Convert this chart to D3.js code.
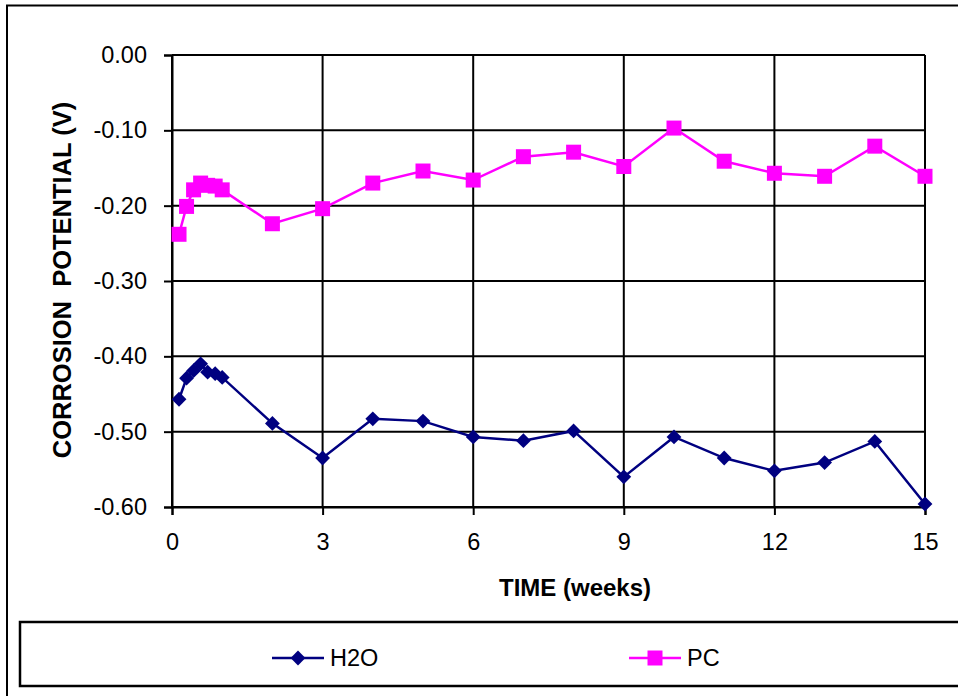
<!DOCTYPE html>
<html>
<head>
<meta charset="utf-8">
<script src="https://cdn.jsdelivr.net/npm/d3@7"></script>
<style>
  body { margin: 0; background: #fff; }
  svg { display: block; font-family: "Liberation Sans", Arial, sans-serif; }
</style>
</head>
<body>
<div id="chart"></div>
<script>
// data
var weeks = [0.14, 0.29, 0.43, 0.57, 0.71, 0.86, 1, 2, 3, 4, 5, 6, 7, 8, 9, 10, 11, 12, 13, 14, 15];
var h2o = [-0.457, -0.429, -0.419, -0.410, -0.421, -0.423, -0.428, -0.489, -0.535, -0.483, -0.486,
           -0.507, -0.512, -0.499, -0.560, -0.507, -0.535, -0.552, -0.541, -0.513, -0.596];
var pc = [-0.238, -0.201, -0.179, -0.170, -0.173, -0.174, -0.179, -0.224, -0.204, -0.170, -0.154,
          -0.166, -0.135, -0.129, -0.148, -0.097, -0.141, -0.157, -0.161, -0.121, -0.161];
var xTicks = [0, 3, 6, 9, 12, 15];
var yTicks = [0, -0.1, -0.2, -0.3, -0.4, -0.5, -0.6];
var seriesNames = ["H2O", "PC"];

var W = 958, H = 696;
var margin = {top: 55, left: 172},
    width = 925 - 172,
    height = 507 - 55;

var svg = d3.select("#chart").append("svg")
    .attr("width", W)
    .attr("height", H);

// outer chart border
svg.append("rect")
    .attr("x", 7).attr("y", 5.5)
    .attr("width", 1000).attr("height", 800)
    .attr("fill", "none").attr("stroke", "#000").attr("stroke-width", 2);

var g = svg.append("g")
    .attr("transform", "translate(" + margin.left + "," + margin.top + ")");

var x = d3.scaleLinear().domain([0, 15]).range([0, width]);
var y = d3.scaleLinear().domain([-0.6, 0]).range([height, 0]);

// gridlines
g.append("g")
    .selectAll("line.hg")
    .data(yTicks)
    .enter().append("line")
    .attr("x1", 0).attr("x2", width)
    .attr("y1", d => y(d)).attr("y2", d => y(d))
    .attr("stroke", "#000").attr("stroke-width", 2);

g.append("g")
    .selectAll("line.vg")
    .data(xTicks)
    .enter().append("line")
    .attr("x1", d => x(d)).attr("x2", d => x(d))
    .attr("y1", 0).attr("y2", height)
    .attr("stroke", "#000").attr("stroke-width", 2);

// axes
var yAxis = g.append("g")
    .call(d3.axisLeft(y).tickValues(yTicks).tickFormat(d3.format(".2f")).tickSize(8).tickPadding(17));
var xAxis = g.append("g")
    .attr("transform", "translate(0," + height + ")")
    .call(d3.axisBottom(x).tickValues(xTicks).tickSize(8).tickPadding(18));

[xAxis, yAxis].forEach(function(a) {
  a.select(".domain").attr("stroke", "#000").attr("stroke-width", 2);
  a.selectAll(".tick line").attr("stroke", "#000").attr("stroke-width", 2);
  a.selectAll(".tick text").attr("fill", "#000").style("font-size", "23.5px")
    .style("font-family", "'Liberation Sans', Arial, sans-serif");
});
yAxis.selectAll(".tick text").text(d => d3.format(".2f")(d).replace("−", "-"));

// axis titles
svg.append("text")
    .attr("x", 575).attr("y", 596)
    .attr("text-anchor", "middle")
    .style("font-size", "24px").style("font-weight", "bold")
    .text("TIME (weeks)");

svg.append("text")
    .attr("transform", "translate(71,280) rotate(-90)")
    .attr("text-anchor", "middle")
    .style("font-size", "25.5px").style("font-weight", "bold")
    .style("white-space", "pre")
    .text("CORROSION  POTENTIAL (V)");

// series
var colors = ["#000080", "#FF00FF"];
var seriesData = [h2o, pc];
var line = d3.line()
    .x(d => x(d[0]))
    .y(d => y(d[1]));

seriesData.forEach(function(vals, i) {
  var pts = weeks.map((w, j) => [w, vals[j]]);
  g.append("path")
      .datum(pts)
      .attr("d", line)
      .attr("fill", "none")
      .attr("stroke", colors[i])
      .attr("stroke-width", 2.5);
});

var diamond = d3.symbol().type(d3.symbolDiamond2).size(140);
var square = d3.symbol().type(d3.symbolSquare).size(225);

g.append("g").selectAll("path")
    .data(weeks.map((w, j) => [w, h2o[j]]))
    .enter().append("path")
    .attr("d", diamond)
    .attr("transform", d => "translate(" + x(d[0]) + "," + y(d[1]) + ")")
    .attr("fill", colors[0]);

g.append("g").selectAll("path")
    .data(weeks.map((w, j) => [w, pc[j]]))
    .enter().append("path")
    .attr("d", square)
    .attr("transform", d => "translate(" + x(d[0]) + "," + y(d[1]) + ")")
    .attr("fill", colors[1]);

// legend
svg.append("rect")
    .attr("x", 20).attr("y", 622)
    .attr("width", 1000).attr("height", 64)
    .attr("fill", "none").attr("stroke", "#000").attr("stroke-width", 2.5);

var legendX = [272, 629];
var leg = svg.append("g").selectAll("g")
    .data(seriesNames)
    .enter().append("g")
    .attr("transform", (d, i) => "translate(" + legendX[i] + ",658)");

leg.append("line")
    .attr("x1", 0).attr("x2", 52)
    .attr("stroke", (d, i) => colors[i])
    .attr("stroke-width", 2.5);

leg.append("path")
    .attr("d", (d, i) => i === 0 ? diamond() : square())
    .attr("transform", "translate(26,0)")
    .attr("fill", (d, i) => colors[i]);

leg.append("text")
    .attr("x", 58).attr("y", 8)
    .style("font-size", "23.5px")
    .text(d => d);
</script>
</body>
</html>
